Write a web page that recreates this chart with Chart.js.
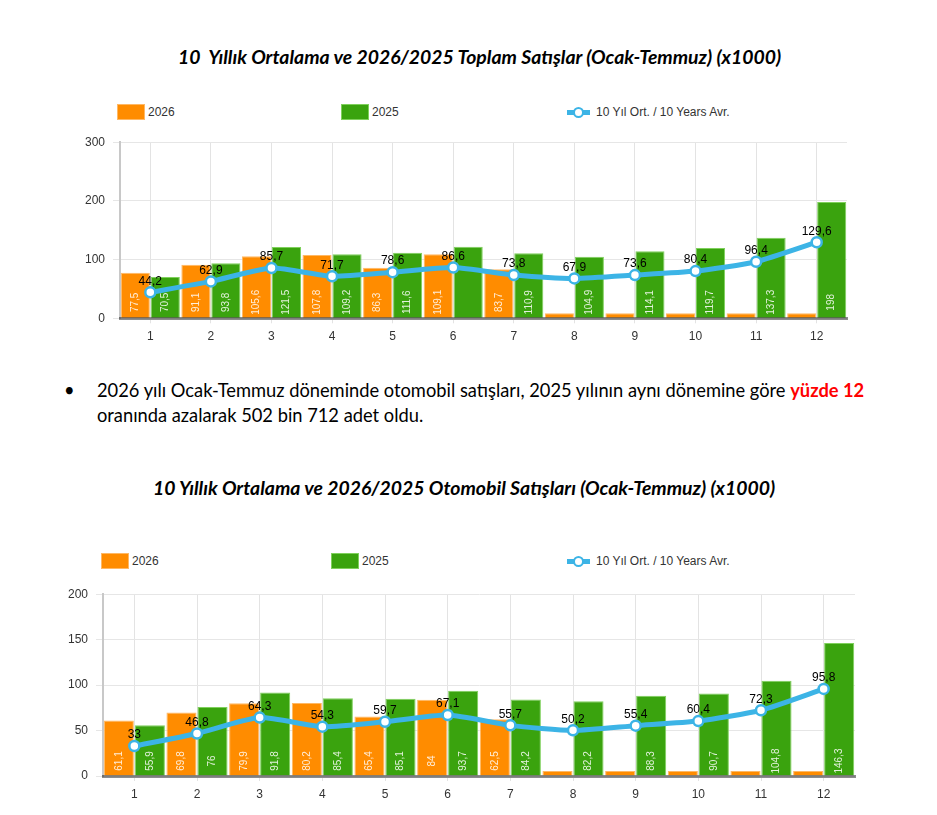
<!DOCTYPE html>
<html>
<head>
<meta charset="utf-8">
<script src="https://cdn.jsdelivr.net/npm/chart.js@4/dist/chart.umd.min.js"></script>
<style>
  body { margin: 0; background: #fff; width: 937px; height: 815px; position: relative; overflow: hidden; }
  .abs { position: absolute; }
  .baslik { font-family: Lato, sans-serif; font-weight: bold; font-style: italic; font-size: 19.4px; white-space: pre; color: #000; line-height: 24px; }
  .metin { font-family: Lato, sans-serif; font-size: 18.3px; color: #000; white-space: pre; line-height: 24px; }
  .lg { font-family: "Liberation Sans", Arial, sans-serif; font-size: 12px; color: #333; }
  .kutu { position: absolute; box-sizing: border-box; }
</style>
</head>
<body>
<div class="abs baslik" style="left:178px; top:45px;">10  Yıllık Ortalama ve 2026/2025 Toplam Satışlar (Ocak-Temmuz) (x1000)</div>

<div class="abs metin" style="left:64px; top:378px;">•</div>
<div class="abs metin" style="left:97px; top:378px;">2026 yılı Ocak-Temmuz döneminde otomobil satışları, 2025 yılının aynı dönemine göre <b style="color:#ff0000">yüzde 12</b></div>
<div class="abs metin" style="left:97px; top:403px;">oranında azalarak 502 bin 712 adet oldu.</div>

<div class="abs baslik" style="left:153px; top:476px;">10 Yıllık Ortalama ve 2026/2025 Otomobil Satışları (Ocak-Temmuz) (x1000)</div>

<div id="lg1"></div>
<div id="lg2"></div>

<canvas id="c1" class="abs" style="left:60px; top:126.7px;"></canvas>
<canvas id="c2" class="abs" style="left:40px; top:579px;"></canvas>

<script>
// aylar
var aylar = ['1', '2', '3', '4', '5', '6', '7', '8', '9', '10', '11', '12'];

// toplam satislar (x1000)
var toplam2026 = [77.5, 91.1, 105.6, 107.8, 86.3, 109.1, 83.7, 0, 0, 0, 0, 0];
var toplam2025 = [70.5, 93.8, 121.5, 109.2, 111.6, 122, 110.9, 104.9, 114.1, 119.7, 137.3, 198];
var toplamOrt = [44.2, 62.9, 85.7, 71.7, 78.6, 86.6, 73.8, 67.9, 73.6, 80.4, 96.4, 129.6];

// otomobil satislari (x1000)
var oto2026 = [61.1, 69.8, 79.9, 80.2, 65.4, 84, 62.5, 0, 0, 0, 0, 0];
var oto2025 = [55.9, 76, 91.8, 85.4, 85.1, 93.7, 84.2, 82.2, 88.3, 90.7, 104.8, 146.3];
var otoOrt = [33, 46.8, 64.3, 54.3, 59.7, 67.1, 55.7, 50.2, 55.4, 60.4, 72.3, 95.8];

// y ekseni
var yTicks1 = [0, 100, 200, 300];
var yTicks2 = [0, 50, 100, 150, 200];

// etiketi gorunmeyen cubuklar (grafik, dataset, ay)
var etiketsiz = { '0-2-5': true };

var TURUNCU = '#ff8c00';
var YESIL = '#3aa30e';
var MAVI = '#3cb4e6';

Chart.defaults.font.family = '"Liberation Sans", Arial, sans-serif';
Chart.defaults.font.size = 12;
Chart.defaults.color = '#333';

function virgul(v) {
  return String(v).replace('.', ',');
}

function legendYap(id, top, x1, x2, x3) {
  var h = '';
  h += '<div class="kutu" style="left:' + x1 + 'px;top:' + top + 'px;width:28px;height:16px;background:' + TURUNCU + ';border:1px solid #ffb864"></div>';
  h += '<div class="abs lg" style="left:' + (x1 + 31) + 'px;top:' + (top + 1) + 'px">2026</div>';
  h += '<div class="kutu" style="left:' + x2 + 'px;top:' + top + 'px;width:28px;height:16px;background:' + YESIL + ';border:1px solid #7fd05c"></div>';
  h += '<div class="abs lg" style="left:' + (x2 + 31) + 'px;top:' + (top + 1) + 'px">2025</div>';
  h += '<div class="kutu" style="left:' + x3 + 'px;top:' + (top + 6) + 'px;width:23px;height:5px;background:' + MAVI + '"></div>';
  h += '<div class="kutu" style="left:' + (x3 + 6) + 'px;top:' + (top + 3) + 'px;width:11px;height:11px;border-radius:50%;background:#fff;border:2.5px solid ' + MAVI + '"></div>';
  h += '<div class="abs lg" style="left:' + (x3 + 29) + 'px;top:' + (top + 1) + 'px">10 Yıl Ort. / 10 Years Avr.</div>';
  document.getElementById(id).innerHTML = h;
}

var etiketPlugin = {
  id: 'etiketler',
  afterDatasetsDraw: function(chart) {
    var ctx = chart.ctx;
    var y0 = chart.scales.y.getPixelForValue(0);
    ctx.save();
    chart.data.datasets.forEach(function(ds, di) {
      var meta = chart.getDatasetMeta(di);
      meta.data.forEach(function(el, i) {
        var v = ds.data[i];
        if (!v) return;
        if (ds.type === 'line') {
          ctx.fillStyle = '#000';
          ctx.font = '12px "Liberation Sans", Arial';
          ctx.textAlign = 'center';
          ctx.textBaseline = 'middle';
          ctx.fillText(virgul(v), el.x, el.y - 11);
        } else {
          if (etiketsiz[chart.options.sira + '-' + di + '-' + i]) return;
          ctx.save();
          ctx.translate(el.x, y0 - chart.options.etiketAlt);
          ctx.rotate(-Math.PI / 2);
          ctx.fillStyle = 'rgba(255,255,255,0.85)';
          ctx.font = '10px "Liberation Sans", Arial';
          ctx.textAlign = 'center';
          ctx.textBaseline = 'middle';
          ctx.fillText(virgul(v), 0, 0);
          ctx.restore();
        }
      });
    });
    ctx.restore();
  }
};

function cvBoyut(id, w, h) {
  var c = document.getElementById(id);
  c.width = w;
  c.height = h;
  c.style.width = w + 'px';
  c.style.height = h + 'px';
  return c;
}

function grafikCiz(cv, sira, d26, d25, ort, yTicks, yGen, xYuk, sagPad, ustPad, etiketAlt) {
  return new Chart(cv.getContext('2d'), {
    data: {
      labels: aylar,
      datasets: [
        {
          type: 'line', label: '10 Yıl Ort. / 10 Years Avr.', data: ort,
          borderColor: MAVI, borderWidth: 5, tension: 0.2,
          pointRadius: 5, pointBorderWidth: 2.5, pointBackgroundColor: '#fff', pointBorderColor: MAVI,
          order: 0
        },
        {
          type: 'bar', label: '2026', data: d26,
          backgroundColor: TURUNCU, borderColor: '#ffb864', borderWidth: 1, minBarLength: 5,
          categoryPercentage: 0.99, barPercentage: 0.97, order: 1
        },
        {
          type: 'bar', label: '2025', data: d25,
          backgroundColor: YESIL, borderColor: '#7fd05c', borderWidth: 1, minBarLength: 5,
          categoryPercentage: 0.99, barPercentage: 0.97, order: 1
        }
      ]
    },
    options: {
      responsive: false,
      devicePixelRatio: 1,
      animation: false,
      sira: sira,
      etiketAlt: etiketAlt,
      layout: { padding: { top: ustPad, right: sagPad, left: 0, bottom: 0 } },
      plugins: { legend: { display: false }, tooltip: { enabled: false } },
      scales: {
        x: {
          offset: true,
          grid: { offset: false, color: '#e3e3e3', tickLength: 5 },
          border: { color: 'rgba(0,0,0,0.45)', width: 3, z: 2 },
          ticks: { padding: 6, color: '#333' },
          afterFit: function(s) { s.height = xYuk; }
        },
        y: {
          min: yTicks[0], max: yTicks[yTicks.length - 1],
          afterBuildTicks: function(s) { s.ticks = yTicks.map(function(v) { return { value: v }; }); },
          grid: { color: '#e6e6e6', tickLength: 7 },
          border: { color: '#c8c8c8', width: 2 },
          ticks: { padding: 8, color: '#333' },
          afterFit: function(s) { s.width = yGen; }
        }
      }
    },
    plugins: [etiketPlugin]
  });
}

legendYap('lg1', 104, 117, 341, 567);
legendYap('lg2', 553, 101, 331, 567);

grafikCiz(cvBoyut('c1', 800, 223.3), 0, toplam2026, toplam2025, toplamOrt, yTicks1, 60, 31.7, 13, 15, 16);
grafikCiz(cvBoyut('c2', 830, 226), 1, oto2026, oto2025, otoOrt, yTicks2, 63, 29, 15, 15, 15);
</script>
</body>
</html>
